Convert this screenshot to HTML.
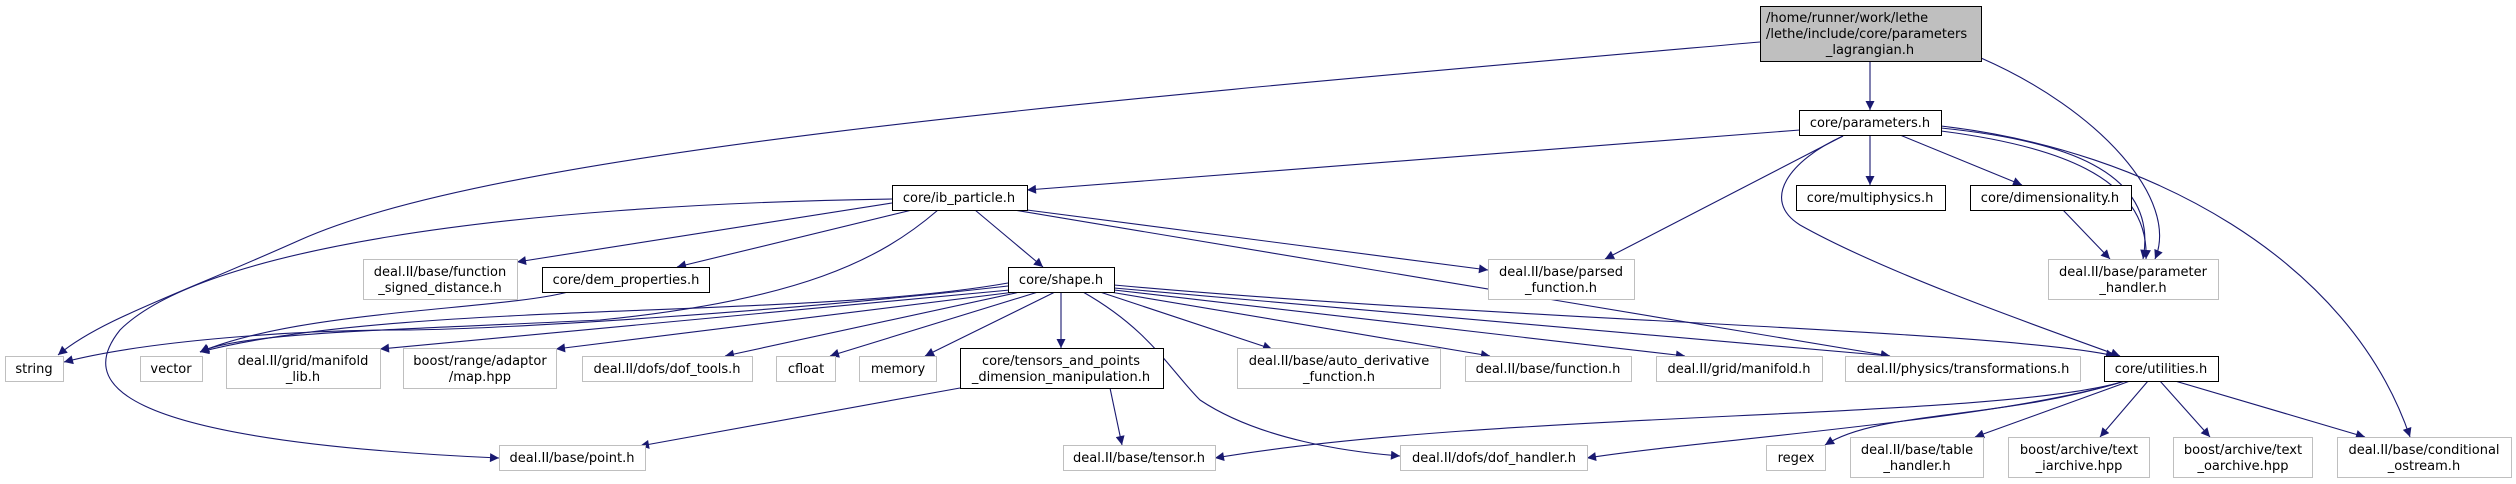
<!DOCTYPE html>
<html><head><meta charset="utf-8">
<style>
html,body{margin:0;padding:0;background:#fff;}
body{width:2516px;height:484px;overflow:hidden;position:relative;font-family:"DejaVu Sans","Liberation Sans",sans-serif;}
svg{position:absolute;left:0;top:0;}
</style></head><body>
<svg width="2516" height="484" viewBox="0 0 2516 484" xmlns="http://www.w3.org/2000/svg">
<defs>
<marker id="a" viewBox="0 0 10 10" refX="10" refY="5" markerWidth="11" markerHeight="9" markerUnits="userSpaceOnUse" orient="auto">
<path d="M0,0 L10,5 L0,10 z" fill="#191970"/>
</marker>
</defs>
<g fill="none" stroke="#191970" stroke-width="1.1" marker-end="url(#a)">
<!-- top node -->
<path d="M1760,42 C1100,100 500,150 300,240 C170,298 100,320 58,355"/>
<path d="M1870,61 L1870,110"/>
<path d="M1981,58 C2100,110 2180,200 2155,259"/>
<!-- parameters.h -->
<path d="M1800,130 L1027,190"/>
<path d="M1870,135 L1870,185"/>
<path d="M1900,135 L2022,185"/>
<path d="M1941,128 C2060,140 2160,170 2143,259"/>
<path d="M1941,131 C2050,145 2150,175 2146,259"/>
<path d="M1941,126 C2150,150 2350,260 2410,437"/>
<path d="M1843,136 L1605,259"/>
<path d="M1843,136 C1790,160 1760,200 1800,225 C1880,270 2020,320 2120,356"/>
<path d="M2063,210 L2110,259"/>
<!-- ib_particle -->
<path d="M892,203 L517,262"/>
<path d="M912,210 L677,267"/>
<path d="M938,210 C880,260 800,300 600,320 C400,330 240,332 200,352"/>
<path d="M892,199 C500,205 200,250 120,330 C80,380 100,440 499,458"/>
<path d="M975,210 L1043,267"/>
<path d="M1027,210 L1488,270"/>
<path d="M1014,210 L1890,356"/>
<!-- dem_properties -->
<path d="M568,292 C500,310 300,310 200,352"/>
<!-- shape.h -->
<path d="M1008,286 C800,310 500,330 400,330 C300,330 150,340 64,362"/>
<path d="M1008,283 C800,320 400,300 200,352"/>
<path d="M1010,290 L380,349"/>
<path d="M1015,292 L556,349"/>
<path d="M1020,292 L725,356"/>
<path d="M1038,292 L830,356"/>
<path d="M1055,292 L925,356"/>
<path d="M1061,292 L1061,348"/>
<path d="M1083,292 C1150,330 1170,370 1200,400 C1260,440 1350,452 1400,456"/>
<path d="M1100,292 L1272,349"/>
<path d="M1110,292 L1490,356"/>
<path d="M1114,290 L1685,356"/>
<path d="M1114,288 L1890,356"/>
<path d="M1114,285 C1500,320 2000,330 2115,356"/>
<!-- tensors -->
<path d="M960,388 L640,446"/>
<path d="M1110,388 L1122,445"/>
<!-- utilities -->
<path d="M2125,381 C2000,420 1500,410 1215,458"/>
<path d="M2125,381 C2000,420 1700,440 1587,458"/>
<path d="M2125,381 C2000,420 1880,410 1825,445"/>
<path d="M2130,381 L1975,437"/>
<path d="M2148,381 L2100,437"/>
<path d="M2160,381 L2210,437"/>
<path d="M2175,381 L2365,437"/>
</g>
<g font-size="13" text-anchor="middle" fill="#000">
<!-- top -->
<rect x="1760.5" y="6.5" width="221" height="55" fill="#bfbfbf" stroke="#000"/>
<text x="1766" y="22" text-anchor="start">/home/runner/work/lethe</text>
<text x="1766" y="38" text-anchor="start">/lethe/include/core/parameters</text>
<text x="1870" y="54">_lagrangian.h</text>
<!-- black boxes -->
<g fill="#fff" stroke="#000">
<rect x="1799.5" y="110.5" width="142" height="25"/>
<rect x="892.5" y="185.5" width="135" height="25"/>
<rect x="1796.5" y="185.5" width="149" height="25"/>
<rect x="1970.5" y="185.5" width="161" height="25"/>
<rect x="542.5" y="267.5" width="167" height="25"/>
<rect x="1008.5" y="267.5" width="106" height="25"/>
<rect x="960.5" y="348.5" width="203" height="40"/>
<rect x="2104.5" y="356.5" width="114" height="25"/>
</g>
<text x="1870" y="127">core/parameters.h</text>
<text x="959" y="202">core/ib_particle.h</text>
<text x="1870" y="202">core/multiphysics.h</text>
<text x="2050" y="202">core/dimensionality.h</text>
<text x="626" y="284">core/dem_properties.h</text>
<text x="1061" y="284">core/shape.h</text>
<text x="1061" y="365">core/tensors_and_points</text>
<text x="1061" y="381">_dimension_manipulation.h</text>
<text x="2161" y="373">core/utilities.h</text>
<!-- gray boxes -->
<g fill="#fff" stroke="#bfbfbf">
<rect x="363.5" y="259.5" width="154" height="40"/>
<rect x="1488.5" y="259.5" width="146" height="40"/>
<rect x="2048.5" y="259.5" width="170" height="40"/>
<rect x="5.5" y="356.5" width="58" height="25"/>
<rect x="140.5" y="356.5" width="62" height="25"/>
<rect x="226.5" y="348.5" width="154" height="40"/>
<rect x="403.5" y="348.5" width="153" height="40"/>
<rect x="582.5" y="356.5" width="170" height="25"/>
<rect x="776.5" y="356.5" width="59" height="25"/>
<rect x="859.5" y="356.5" width="77" height="25"/>
<rect x="1237.5" y="348.5" width="203" height="40"/>
<rect x="1465.5" y="356.5" width="166" height="25"/>
<rect x="1656.5" y="356.5" width="166" height="25"/>
<rect x="1845.5" y="356.5" width="235" height="25"/>
<rect x="499.5" y="445.5" width="146" height="25"/>
<rect x="1063.5" y="445.5" width="152" height="25"/>
<rect x="1400.5" y="445.5" width="187" height="25"/>
<rect x="1766.5" y="445.5" width="59" height="25"/>
<rect x="1850.5" y="437.5" width="133" height="40"/>
<rect x="2008.5" y="437.5" width="141" height="40"/>
<rect x="2173.5" y="437.5" width="139" height="40"/>
<rect x="2337.5" y="437.5" width="174" height="40"/>
</g>
<text x="440" y="276">deal.II/base/function</text>
<text x="440" y="292">_signed_distance.h</text>
<text x="1561" y="276">deal.II/base/parsed</text>
<text x="1561" y="292">_function.h</text>
<text x="2133" y="276">deal.II/base/parameter</text>
<text x="2133" y="292">_handler.h</text>
<text x="34" y="373">string</text>
<text x="171" y="373">vector</text>
<text x="303" y="365">deal.II/grid/manifold</text>
<text x="303" y="381">_lib.h</text>
<text x="480" y="365">boost/range/adaptor</text>
<text x="480" y="381">/map.hpp</text>
<text x="667" y="373">deal.II/dofs/dof_tools.h</text>
<text x="806" y="373">cfloat</text>
<text x="898" y="373">memory</text>
<text x="1339" y="365">deal.II/base/auto_derivative</text>
<text x="1339" y="381">_function.h</text>
<text x="1548" y="373">deal.II/base/function.h</text>
<text x="1739" y="373">deal.II/grid/manifold.h</text>
<text x="1963" y="373">deal.II/physics/transformations.h</text>
<text x="572" y="462">deal.II/base/point.h</text>
<text x="1139" y="462">deal.II/base/tensor.h</text>
<text x="1494" y="462">deal.II/dofs/dof_handler.h</text>
<text x="1796" y="462">regex</text>
<text x="1917" y="454">deal.II/base/table</text>
<text x="1917" y="470">_handler.h</text>
<text x="2079" y="454">boost/archive/text</text>
<text x="2079" y="470">_iarchive.hpp</text>
<text x="2243" y="454">boost/archive/text</text>
<text x="2243" y="470">_oarchive.hpp</text>
<text x="2424" y="454">deal.II/base/conditional</text>
<text x="2424" y="470">_ostream.h</text>
</g>
</svg>
</body></html>
